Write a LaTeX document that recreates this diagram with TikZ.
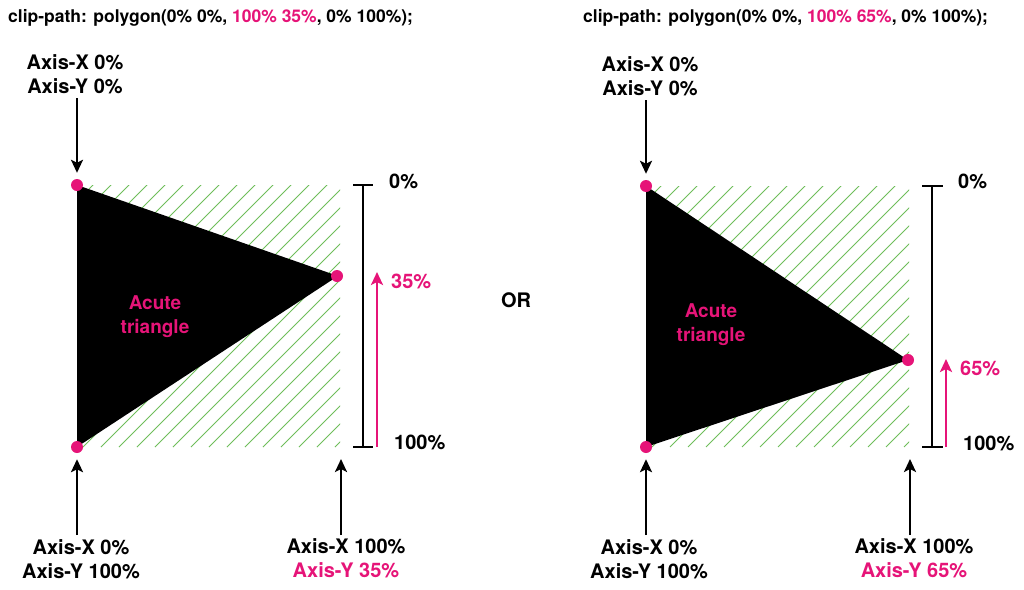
\documentclass[tikz,border=0pt]{standalone}
\usepackage{fontspec}
\setmainfont{TeX Gyre Heros}
\usetikzlibrary{arrows.meta}
\definecolor{hotpink}{RGB}{230,20,120}
\definecolor{hatchgreen}{RGB}{110,190,90}
\tikzset{
  lbl/.style={font=\fontsize{20}{24}\selectfont\bfseries, align=center, inner sep=0pt},
  tri/.style={font=\fontsize{19}{24}\selectfont\bfseries, align=center, inner sep=0pt, text=hotpink},
  pct/.style={font=\fontsize{20}{24}\selectfont\bfseries, anchor=west, inner sep=0pt},
  code/.style={font=\fontsize{17.5}{20}\selectfont\bfseries, anchor=west, inner sep=0pt},
  arr/.style={line width=2.4pt, -{Stealth[length=13pt,width=12pt,inset=3pt]}},
  parr/.style={line width=2.4pt, draw=hotpink, -{Stealth[length=13pt,width=12pt,inset=3pt]}},
  brk/.style={line width=2.2pt},
  dot/.style={circle, fill=hotpink, minimum size=12pt, inner sep=0pt},
  hatch/.style={draw=hatchgreen, line width=0.9pt},
}
\begin{document}
\begin{tikzpicture}[x=1pt,y=-1pt]
\useasboundingbox (0,0) rectangle (1024,589);
\fill[white] (0,0) rectangle (1024,589);

% ---------- LEFT PANEL ----------
\node[code] (codeL) at (8,18) {clip-path: polygon(0\% 0\%, \textcolor{hotpink}{100\% 35\%}, 0\% 100\%);};
\begin{scope}
  \clip (77,185) rectangle (340,447);
  \foreach \k in {-300,-282,...,300} {
    \draw[hatch] (77+\k,447) -- (77+\k+300,147);
  }
\end{scope}
\fill[black] (77,185) -- (338,276) -- (77,447) -- cycle;
\node[dot] (L1) at (77,185) {};
\node[dot] (L2) at (337,276) {};
\node[dot] (L3) at (77,447) {};
\node[tri] (triL) at (155,317) {Acute\\triangle};

\node[lbl] (tlL) at (75,74) {Axis-X 0\%\\Axis-Y 0\%};
\coordinate (tlLa) at (77,98);
\draw[arr] (tlLa) -- ([yshift=6pt]L1.north);

\node[lbl] (blL) at (81,559) {Axis-X 0\%\\Axis-Y 100\%};
\coordinate (blLa) at (77,535);
\draw[arr] (blLa) -- ([yshift=-6pt]L3.south);

\node[lbl] (brL) at (346,558) {Axis-X 100\%\\\textcolor{hotpink}{Axis-Y 35\%}};
\coordinate (brLa) at (341,535);
\coordinate (brLt) at (341,459);
\draw[arr] (brLa) -- (brLt);

\coordinate (bLt) at (363,185);
\coordinate (bLb) at (363,447);
\draw[brk] (bLt) -- (bLb);
\draw[brk] (353,185) -- (373,185);
\draw[brk] (353,447) -- (373,447);
\coordinate (pLb) at (377,447);
\coordinate (pLt) at (377,272);
\draw[parr] (pLb) -- (pLt);
\node[pct] (zL) at (389,181) {0\%};
\node[pct] (hL) at (394,442) {100\%};
\node[pct, text=hotpink] (pL) at (391,281) {35\%};

\node[font=\fontsize{20}{24}\selectfont\bfseries, inner sep=0pt] (or) at (516,300) {OR};

% ---------- RIGHT PANEL ----------
\node[code] (codeR) at (583,18) {clip-path: polygon(0\% 0\%, \textcolor{hotpink}{100\% 65\%}, 0\% 100\%);};
\begin{scope}
  \clip (646,186) rectangle (909,447);
  \foreach \k in {-300,-282,...,300} {
    \draw[hatch] (646+\k,447) -- (646+\k+300,147);
  }
\end{scope}
\fill[black] (646,186) -- (908,360) -- (646,447) -- cycle;
\node[dot] (R1) at (646,186) {};
\node[dot] (R2) at (908,360) {};
\node[dot] (R3) at (646,447) {};
\node[tri] (triR) at (711,325) {Acute\\triangle};

\node[lbl] (tlR) at (650,76) {Axis-X 0\%\\Axis-Y 0\%};
\coordinate (tlRa) at (646,100);
\draw[arr] (tlRa) -- ([yshift=6pt]R1.north);

\node[lbl] (blR) at (649,559) {Axis-X 0\%\\Axis-Y 100\%};
\coordinate (blRa) at (646,535);
\draw[arr] (blRa) -- ([yshift=-6pt]R3.south);

\node[lbl] (brR) at (914,558) {Axis-X 100\%\\\textcolor{hotpink}{Axis-Y 65\%}};
\coordinate (brRa) at (910,535);
\coordinate (brRt) at (910,459);
\draw[arr] (brRa) -- (brRt);

\coordinate (bRt) at (932,186);
\coordinate (bRb) at (932,447);
\draw[brk] (bRt) -- (bRb);
\draw[brk] (922,186) -- (943,186);
\draw[brk] (922,447) -- (943,447);
\coordinate (pRb) at (946,447);
\coordinate (pRt) at (946,359);
\draw[parr] (pRb) -- (pRt);
\node[pct] (zR) at (958,181) {0\%};
\node[pct] (hR) at (963,443) {100\%};
\node[pct, text=hotpink] (pR) at (960,368) {65\%};
\end{tikzpicture}
\end{document}
